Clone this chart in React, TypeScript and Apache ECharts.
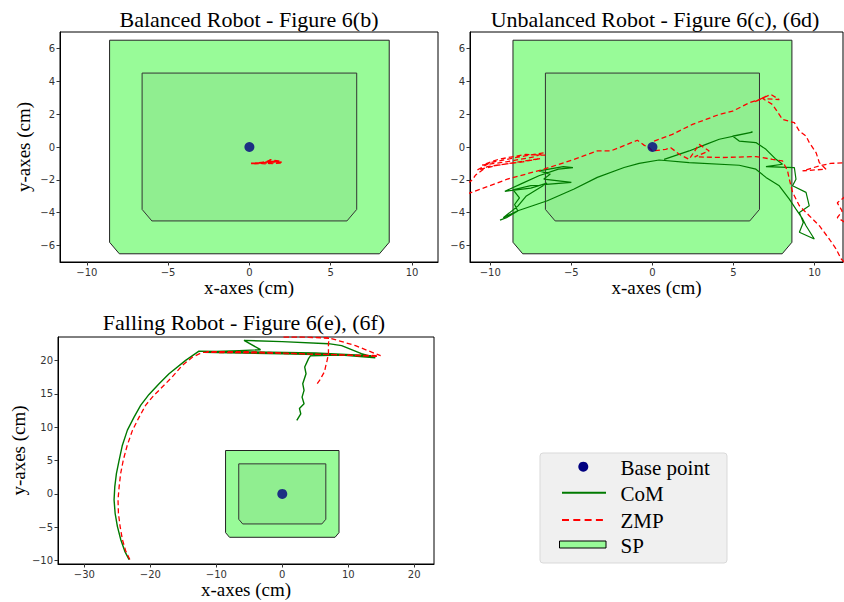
import React, { useEffect, useRef } from "react";
import * as echarts from "echarts";

// ---------- data ----------
const TITLES = [
  "Balanced Robot - Figure 6(b)",
  "Unbalanced Robot - Figure 6(c), (6d)",
  "Falling Robot - Figure 6(e), (6f)",
];
const X_TICKS_A = [-10, -5, 0, 5, 10];
const Y_TICKS_A = [-6, -4, -2, 0, 2, 4, 6];
const X_TICKS_C = [-30, -20, -10, 0, 10, 20];
const Y_TICKS_C = [-10, -5, 0, 5, 10, 15, 20];

const SP_OUTER = [[-8.6, 6.5], [8.6, 6.5], [8.6, -5.8], [8.0, -6.5], [-8.0, -6.5], [-8.6, -5.8]];
const SP_INNER = [[-6.6, 4.5], [6.6, 4.5], [6.6, -3.8], [6.0, -4.5], [-6.0, -4.5], [-6.6, -3.8]];
const BASE_POINT = [[0, 0]];

// Balanced robot
const ZMP_BAL = [
  [0.1, -1.0], [0.5, -0.97], [0.9, -0.93], [1.2, -0.85], [1.3, -0.78], [1.5, -0.82], [1.8, -0.86],
  [2.0, -0.92], [1.7, -0.95], [1.4, -0.97], [1.1, -1.02], [0.8, -0.99], [0.4, -0.98], [0.9, -0.96],
  [1.3, -0.9], [1.6, -0.88], [1.9, -0.95], [1.5, -0.92], [1.2, -0.95], [0.7, -0.98], [0.3, -1.01],
  [0.8, -0.95], [1.35, -0.86], [1.75, -0.9], [1.95, -0.96], [1.45, -1.0], [1.0, -0.97],
];

// Unbalanced robot
const ZMP_UNB_CLUSTER = [
  [-6.6, -0.5], [-7.8, -0.45], [-9.5, -0.75], [-10.5, -1.1], [-9.0, -0.9], [-7.3, -0.6], [-6.7, -0.35],
  [-8.2, -0.6], [-10.0, -0.95], [-10.8, -1.4], [-9.5, -1.1], [-8.0, -0.9], [-6.9, -0.7], [-8.5, -0.95],
  [-10.2, -1.2], [-10.9, -1.7], [-11.1, -2.0], [-11.4, -2.2],
];
const ZMP_UNB_LOWER = [
  [-11.4, -2.85], [-8.95, -1.96], [-6.69, -1.35], [-4.83, -0.75], [-3.4, -0.24], [-2.57, -0.24],
  [-0.93, 0.41], [-0.5, 0.1], [-0.2, -0.04], [0, -0.24], [0.82, -0.14], [1.13, -0.04], [1.65, -0.44],
  [2.26, -0.75], [2.88, 0.16], [3.5, -0.24], [2.6, -0.6], [4.32, -0.64], [6.38, -0.58], [7.4, -0.75],
  [8.02, -0.85], [8.33, -1.45], [8.44, -1.96], [8.64, -2.76], [9.06, -3.58], [9.67, -4.18],
  [10.29, -4.79], [10.9, -5.6], [11.32, -6.2], [11.63, -6.8], [12.0, -7.2],
];
const ZMP_UNB_UPPER = [
  [0.1, 0.36], [1.23, 0.77], [2.47, 1.38], [3.3, 1.68], [4.12, 1.98], [4.94, 2.18], [5.97, 2.69],
  [6.59, 2.89], [7.0, 3.09], [6.3, 2.75], [7.3, 3.2], [7.82, 2.89], [6.8, 2.95], [7.4, 2.59],
  [8.02, 1.68], [8.75, 1.48], [9.06, 0.97], [9.47, 0.67], [9.67, 0.27], [10.09, -0.34], [10.29, -0.95],
  [10.7, -1.35], [9.26, -1.45], [10.29, -1.15], [11.0, -1.0], [11.9, -0.95],
];
const ZMP_UNB_EDGE = [[11.9, -3.0], [11.4, -3.4], [11.7, -3.9], [11.4, -4.3], [11.9, -4.6]];
const COM_UNB = [
  [-9.4, -4.45], [-9.0, -4.3], [-8.3, -3.9], [-8.5, -3.5], [-8.2, -3.1], [-8.6, -2.6], [-7.5, -2.35],
  [-5.0, -2.15], [-6.7, -1.95], [-6.3, -1.65], [-7.0, -1.45], [-5.5, -1.2], [-4.9, -1.25], [-5.8, -1.35],
  [-7.0, -1.75], [-8.0, -2.2], [-9.1, -2.7], [-7.5, -2.5], [-6.5, -2.2], [-7.8, -3.0], [-8.3, -3.6],
  [-9.2, -4.3], [-8.3, -3.88], [-6.48, -3.27], [-4.83, -2.56], [-3.4, -1.85], [-1.75, -1.25],
  [-0.82, -1.0], [0.41, -0.79], [2.26, -0.95], [5.35, -1.11], [6.38, -1.35], [7.0, -1.85], [7.82, -2.36],
  [8.44, -3.17], [8.85, -3.78], [9.26, -4.38], [9.47, -4.79], [9.98, -5.6], [9.06, -5.19], [9.3, -4.6],
  [9.06, -3.98], [9.67, -3.58], [9.47, -2.76], [8.64, -2.36], [8.85, -1.96], [8.75, -1.25], [7.0, -1.19],
  [8.02, -1.05], [7.62, -0.75], [7.0, -0.14], [6.38, 0.27], [5.35, 0.36], [4.94, 0.67], [6.17, 0.91],
  [4.12, 0.47], [3.3, 0.16], [2.26, -0.24], [0.72, -0.75],
];

// Falling robot
const COM_FALL = [
  [2.2, 11.0], [2.8, 12.0], [2.6, 12.8], [3.3, 13.5], [3.0, 14.5], [3.3, 15.5], [3.1, 16.5], [3.6, 18.0],
  [3.4, 19.0], [4.0, 20.3], [4.3, 20.7], [9.0, 20.8], [14.1, 20.4], [12.0, 21.0], [9.0, 22.2], [7.0, 22.5],
  [0, 22.8], [-5.8, 23.0], [-3.3, 21.6], [-10.0, 21.3], [-12.0, 21.2], [0, 21.0], [13.5, 20.7], [5.0, 21.1],
  [-12.63, 21.39], [-14.65, 20.0], [-17.17, 18.0], [-18.68, 16.5], [-20.2, 14.9], [-21.45, 13.3],
  [-22.47, 11.5], [-23.48, 9.55], [-24.24, 7.3], [-24.73, 5.07], [-25.14, 3.08], [-25.39, 1.1],
  [-25.5, -0.9], [-25.34, -2.9], [-24.99, -4.9], [-24.48, -6.87], [-23.87, -8.6], [-23.22, -9.85],
];
const ZMP_FALL = [
  [5.3, 16.5], [5.8, 17.2], [6.0, 17.6], [6.4, 18.3], [6.6, 19.2], [6.8, 20.0], [7.0, 21.0], [7.0, 22.5],
  [7.1, 23.3], [3.0, 23.5], [0, 23.5], [3.0, 23.5], [7.0, 23.4], [11.1, 22.2], [14.9, 20.7], [5.0, 20.9],
  [-5.0, 21.3], [-11.5, 21.3], [10.0, 20.8], [14.5, 20.6], [0, 21.1], [-12.1, 21.2], [-13.6, 20.5],
  [-15.16, 19.25], [-16.7, 17.5], [-18.7, 15.5], [-19.44, 14.8], [-20.7, 13.3], [-21.7, 11.5],
  [-22.7, 9.55], [-23.5, 7.3], [-24.1, 5.07], [-24.5, 3.08], [-24.73, 1.1], [-24.9, -0.9],
  [-24.84, -2.9], [-24.58, -4.9], [-24.23, -6.87], [-23.72, -8.6], [-23.1, -9.85],
];

// ---------- styles ----------
const SERIF = "Liberation Serif";
const GREEN = "#007a00";
const RED = "#ff0000";
const NAVY = "#000080";

function minus(v: number) {
  return String(v).replace("-", "\u2212");
}

function axisCfg(gridIndex: number, min: number, max: number, ticks: number[], name: string, gap: number) {
  return {
    type: "value", gridIndex, min, max, name, nameLocation: "middle", nameGap: gap,
    nameTextStyle: { fontFamily: SERIF, fontSize: 19, color: "#000" },
    axisLine: { show: true, onZero: false, lineStyle: { color: "#000", width: 1 } },
    axisTick: { show: true, customValues: ticks, length: 3.5, lineStyle: { color: "#333" } },
    axisLabel: { customValues: ticks, formatter: minus, fontFamily: "DejaVu Sans", fontSize: 10, color: "#333", margin: 5 },
    splitLine: { show: false },
  };
}

function spSeries(i: number) {
  return {
    type: "custom", xAxisIndex: i, yAxisIndex: i, z: 1, silent: true,
    data: [[0, 0]],
    renderItem: (_p: any, api: any) => ({
      type: "group",
      children: [
        { type: "polygon", shape: { points: SP_OUTER.map((p) => api.coord(p)) }, style: { fill: "#98fb98", stroke: "#222", lineWidth: 1 } },
        { type: "polygon", shape: { points: SP_INNER.map((p) => api.coord(p)) }, style: { fill: "#90ee90", stroke: "#333", lineWidth: 1 } },
      ],
    }),
  };
}
function lineSeries(i: number, data: number[][], kind: "com" | "zmp", width?: number) {
  return {
    type: "line", xAxisIndex: i, yAxisIndex: i, data, z: 2, showSymbol: false, symbol: "none",
    clip: true, silent: true,
    lineStyle: kind === "com"
      ? { color: GREEN, width: width || 1.2 }
      : { color: RED, width: width || 1.3, type: [5, 3] },
  };
}
function baseSeries(i: number) {
  return {
    type: "scatter", xAxisIndex: i, yAxisIndex: i, data: BASE_POINT, z: 3, symbolSize: 10, silent: true,
    itemStyle: { color: NAVY },
  };
}

function titleText(text: string, x: number, y: number) {
  return {
    type: "text", x, y, silent: true,
    style: { text, align: "center", verticalAlign: "middle", fontFamily: SERIF, fontSize: 22, fill: "#000" },
  };
}
function legendText(text: string, y: number) {
  return {
    type: "text", x: 620.5, y, silent: true,
    style: { text, align: "left", verticalAlign: "middle", fontFamily: SERIF, fontSize: 21, fill: "#000" },
  };
}

export default function App() {
  const ref = useRef<HTMLDivElement>(null);
  useEffect(() => {
    if (!ref.current) return;
    const chart = echarts.init(ref.current, null, { renderer: "svg" });
    const option: any = {
      animation: false,
      backgroundColor: "#fff",
      grid: [
        { left: 60, top: 32, width: 378, height: 230, show: true, borderColor: "#000", borderWidth: 1, backgroundColor: "transparent" },
        { left: 470, top: 32, width: 373, height: 230, show: true, borderColor: "#000", borderWidth: 1, backgroundColor: "transparent" },
        { left: 58, top: 337, width: 376, height: 227, show: true, borderColor: "#000", borderWidth: 1, backgroundColor: "transparent" },
      ],
      xAxis: [
        axisCfg(0, -11.65, 11.6, X_TICKS_A, "x-axes (cm)", 14),
        axisCfg(1, -11.25, 11.75, X_TICKS_A, "x-axes (cm)", 14),
        axisCfg(2, -34, 23, X_TICKS_C, "x-axes (cm)", 15),
      ],
      yAxis: [
        axisCfg(0, -7, 7, Y_TICKS_A, "y-axes (cm)", 27),
        axisCfg(1, -7, 7, Y_TICKS_A, "", 27),
        axisCfg(2, -10.5, 23.5, Y_TICKS_C, "y-axes (cm)", 26),
      ],
      series: [
        spSeries(0),
        lineSeries(0, ZMP_BAL, "zmp", 1.8),
        baseSeries(0),
        spSeries(1),
        lineSeries(1, COM_UNB, "com"),
        lineSeries(1, ZMP_UNB_CLUSTER, "zmp"),
        lineSeries(1, ZMP_UNB_LOWER, "zmp"),
        lineSeries(1, ZMP_UNB_UPPER, "zmp"),
        lineSeries(1, ZMP_UNB_EDGE, "zmp"),
        baseSeries(1),
        spSeries(2),
        lineSeries(2, COM_FALL, "com", 1.4),
        lineSeries(2, ZMP_FALL, "zmp"),
        baseSeries(2),
      ],
      graphic: [
        titleText(TITLES[0], 249, 19),
        titleText(TITLES[1], 655, 19),
        titleText(TITLES[2], 244, 322),
        { type: "rect", silent: true, shape: { x: 540, y: 453, width: 187, height: 110, r: 3 }, style: { fill: "#f0f0f0", stroke: "#d9d9d9", lineWidth: 1 } },
        { type: "circle", silent: true, shape: { cx: 583.3, cy: 466.7, r: 5 }, style: { fill: NAVY } },
        { type: "line", silent: true, shape: { x1: 562, y1: 492.7, x2: 606, y2: 492.7 }, style: { stroke: GREEN, lineWidth: 2 } },
        { type: "line", silent: true, shape: { x1: 562, y1: 520, x2: 606, y2: 520 }, style: { stroke: RED, lineWidth: 2, lineDash: [7, 4.3] } },
        { type: "rect", silent: true, shape: { x: 559.5, y: 541, width: 46.5, height: 7 }, style: { fill: "#98fb98", stroke: "#000", lineWidth: 1 } },
        legendText("Base point", 468),
        legendText("CoM", 494),
        legendText("ZMP", 520.7),
        legendText("SP", 545.5),
      ],
    };
    chart.setOption(option);
    return () => chart.dispose();
  }, []);
  return <div ref={ref} style={{ position: "fixed", left: 0, top: 0, width: 844, height: 602 }} />;
}
